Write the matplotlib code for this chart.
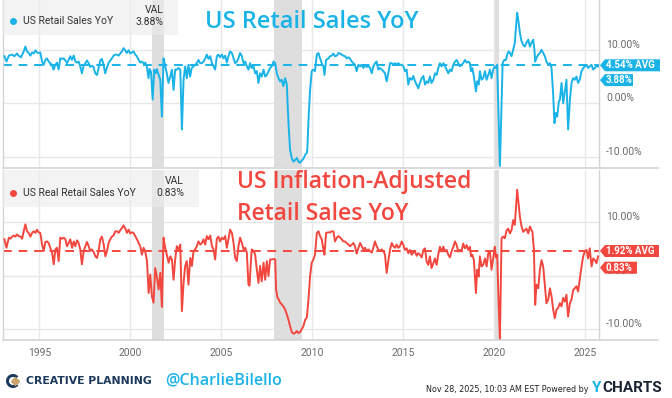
import matplotlib.pyplot as plt
import matplotlib.transforms as mtransforms
from matplotlib.lines import Line2D
from matplotlib.patches import Rectangle, Polygon, Wedge

plt.rcParams['font.family'] = ['Roboto', 'DejaVu Sans']

# ---------------- data (decimal years) ----------------
nominal_years = [
    1993.08, 1993.19, 1993.32, 1993.50, 1993.63, 1993.77, 1993.86, 1993.99, 1994.14, 1994.23,
    1994.32, 1994.41, 1994.51, 1994.60, 1994.69, 1994.78, 1994.87, 1994.96, 1995.05, 1995.15,
    1995.24, 1995.33, 1995.42, 1995.51, 1995.60, 1995.69, 1995.78, 1995.88, 1995.97, 1996.06,
    1996.15, 1996.24, 1996.34, 1996.43, 1996.52, 1996.61, 1996.70, 1996.79, 1996.89, 1996.98,
    1997.07, 1997.16, 1997.25, 1997.34, 1997.43, 1997.53, 1997.62, 1997.71, 1997.80, 1997.89,
    1997.98, 1998.07, 1998.17, 1998.26, 1998.35, 1998.44, 1998.53, 1998.62, 1998.71, 1998.80,
    1998.90, 1998.99, 1999.08, 1999.17, 1999.27, 1999.36, 1999.45, 1999.54, 1999.63, 1999.72,
    1999.81, 1999.91, 2000.00, 2000.09, 2000.18, 2000.27, 2000.36, 2000.46, 2000.55, 2000.64,
    2000.73, 2000.82, 2000.91, 2001.00, 2001.06, 2001.14, 2001.23, 2001.32, 2001.39, 2001.46,
    2001.56, 2001.65, 2001.74, 2001.83, 2001.92, 2002.01, 2002.10, 2002.20, 2002.29, 2002.38,
    2002.47, 2002.56, 2002.65, 2002.75, 2002.84, 2002.93, 2003.02, 2003.11, 2003.20, 2003.29,
    2003.38, 2003.48, 2003.57, 2003.66, 2003.75, 2003.84,
    2003.94, 2004.03, 2004.12, 2004.21, 2004.30, 2004.40, 2004.49, 2004.58, 2004.67, 2004.76,
    2004.85, 2004.94, 2005.04, 2005.13, 2005.22, 2005.31, 2005.40, 2005.49, 2005.59, 2005.68,
    2005.77, 2005.86, 2005.95, 2006.04, 2006.14, 2006.23, 2006.32, 2006.41, 2006.50, 2006.59,
    2006.68, 2006.78, 2006.87, 2006.96, 2007.05, 2007.14, 2007.23, 2007.33, 2007.42, 2007.51,
    2007.60, 2007.69, 2007.78, 2007.88, 2007.97, 2008.06, 2008.15, 2008.24, 2008.33, 2008.42,
    2008.52, 2008.61, 2008.66, 2008.72, 2008.79, 2008.88, 2008.97, 2009.07, 2009.16, 2009.25,
    2009.34, 2009.43, 2009.52, 2009.62, 2009.71, 2009.74, 2009.82, 2009.89, 2009.98, 2010.07,
    2010.16, 2010.26, 2010.35, 2010.44, 2010.53, 2010.62, 2010.68, 2010.77, 2010.90, 2010.99,
    2011.08, 2011.17, 2011.26, 2011.36, 2011.45, 2011.54, 2011.63, 2011.72, 2011.81, 2011.90,
    2012.00, 2012.09, 2012.18, 2012.27, 2012.36, 2012.45, 2012.55, 2012.64, 2012.73, 2012.82,
    2012.91, 2013.00, 2013.10, 2013.19, 2013.28, 2013.37, 2013.46, 2013.55, 2013.64, 2013.73,
    2013.83, 2013.92, 2014.01, 2014.10, 2014.19, 2014.29, 2014.38, 2014.47, 2014.56, 2014.65,
    2014.74, 2014.83,
    2014.93, 2015.02, 2015.11, 2015.20, 2015.29, 2015.38, 2015.48, 2015.57, 2015.66, 2015.75,
    2015.84, 2015.93, 2016.03, 2016.12, 2016.21, 2016.30, 2016.39, 2016.48, 2016.57, 2016.67,
    2016.76, 2016.85, 2016.94, 2017.03, 2017.12, 2017.22, 2017.31, 2017.40, 2017.49, 2017.58,
    2017.67, 2017.77, 2017.86, 2017.95, 2018.04, 2018.13, 2018.22, 2018.31, 2018.41, 2018.50,
    2018.59, 2018.68, 2018.74, 2018.81, 2018.90, 2019.01, 2019.08, 2019.16, 2019.23, 2019.32,
    2019.41, 2019.51, 2019.60, 2019.69, 2019.78, 2019.87, 2019.96, 2020.05, 2020.11, 2020.18,
    2020.26, 2020.33, 2020.42, 2020.48, 2020.57, 2020.66, 2020.73, 2020.81, 2020.88, 2020.97,
    2021.06, 2021.15, 2021.23, 2021.28, 2021.34, 2021.43, 2021.52, 2021.61, 2021.70, 2021.79,
    2021.89, 2021.98, 2022.07, 2022.16, 2022.23, 2022.27, 2022.34, 2022.44, 2022.53, 2022.62,
    2022.71, 2022.80, 2022.89, 2022.99, 2023.08, 2023.17, 2023.26, 2023.33, 2023.41, 2023.48,
    2023.57, 2023.63, 2023.72, 2023.81, 2023.90, 2023.99, 2024.08, 2024.18, 2024.27, 2024.36,
    2024.45, 2024.54, 2024.63, 2024.72, 2024.82, 2024.91, 2025.00, 2025.09, 2025.18, 2025.27,
    2025.37, 2025.46, 2025.55, 2025.64, 2025.73,
]
nominal_yoy = [
    8.8, 7.8, 8.9, 9.1, 8.8, 9.3, 8.9, 8.6, 9.7, 10.6,
    9.7, 9.4, 8.9, 9.5, 9.3, 9.9, 9.5, 9.4, 9.5, 7.8,
    7.2, 8.1, 8.4, 7.8, 7.5, 7.2, 6.3, 7.2, 7.6, 6.3,
    8.4, 8.3, 8.4, 8.0, 7.5, 8.1, 8.8, 8.1, 8.9, 7.8,
    7.6, 7.8, 6.9, 5.6, 7.0, 7.5, 8.0, 7.5, 6.8, 7.0,
    6.8, 5.6, 5.3, 6.6, 8.0, 8.3, 7.2, 5.6, 6.6, 7.5,
    8.0, 8.4, 8.9, 9.1, 9.1, 8.9, 9.3, 9.7, 10.3, 9.9,
    9.4, 9.9, 9.3, 9.5, 9.7, 9.1, 8.8, 8.1, 7.6, 7.8,
    7.5, 7.6, 7.0, 4.7, 6.4, 5.9, 0.7, 6.3, 5.6, 6.4,
    5.3, 4.4, -2.5, 8.4, 6.9, 5.6, 3.8, 5.0, 6.3, 2.5,
    6.3, 6.3, 6.6, 6.3, -4.9, 4.4, 6.9, 4.7, 7.2, 5.0,
    6.6, 6.9, 7.2, 7.5, 8.1, 7.5,
    7.5, 7.8, 8.4, 9.1, 8.3, 8.8, 7.5, 6.9, 6.3, 8.8,
    9.1, 8.6, 9.1, 8.4, 8.9, 7.6, 8.8, 9.7, 9.4, 8.4,
    7.5, 7.8, 8.4, 9.4, 8.8, 7.5, 7.8, 6.9, 6.3, 7.5,
    6.6, 6.9, 5.6, 6.0, 3.8, 5.6, 5.0, 6.3, 5.0, 5.3,
    6.0, 6.6, 6.9, 7.8, 7.5, 5.6, 4.7, 4.1, 4.4, 3.2,
    4.7, 3.5, -0.6, -4.9, -8.7, -10.2, -10.9, -10.6, -10.2, -10.9,
    -11.1, -10.7, -10.4, -9.6, -9.3, -8.4, -1.8, 2.5, 6.0, 6.3,
    6.0, 9.1, 9.4, 8.4, 7.5, 6.9, 5.3, 8.1, 8.4, 8.8,
    8.9, 9.3, 8.8, 8.9, 9.4, 9.3, 9.1, 8.9, 8.8, 8.4,
    8.6, 8.3, 7.8, 7.5, 7.2, 6.0, 7.2, 6.9, 7.2, 6.6,
    7.2, 6.8, 6.9, 6.6, 5.6, 6.9, 7.5, 7.8, 6.3, 6.6,
    6.3, 6.0, 5.6, 4.1, 5.6, 7.5, 7.5, 7.2, 7.5, 7.2,
    7.5, 7.2,
    7.2, 6.9, 6.0, 6.3, 3.5, 4.7, 4.4, 5.1, 4.1, 3.5,
    2.8, 3.8, 4.7, 5.1, 3.5, 4.1, 3.8, 5.0, 3.8, 4.4,
    5.6, 5.3, 6.6, 7.5, 6.9, 7.5, 6.9, 6.3, 5.6, 6.3,
    6.0, 7.2, 7.8, 8.1, 7.5, 6.9, 7.2, 7.5, 8.1, 7.6,
    7.8, 7.5, 6.0, 6.6, 5.0, 2.2, 4.1, 3.5, 6.0, 4.4,
    4.7, 6.0, 4.4, 5.3, 6.3, 4.7, 6.3, 6.9, 6.6, 7.2,
    -2.5, -11.7, 0.3, 7.5, 8.1, 8.1, 9.1, 9.7, 9.4, 8.8,
    10.0, 11.3, 15.0, 16.9, 15.6, 13.1, 11.6, 10.9, 10.6, 11.3,
    11.9, 10.6, 11.3, 11.9, 10.0, 7.8, 8.5, 9.1, 9.4, 10.0,
    9.4, 8.8, 7.8, 7.2, 7.5, 6.6, 1.6, -3.7, -1.8, -2.5,
    0.3, 0.7, 3.8, 0.0, 2.2, 4.4, -4.9, 0.7, 3.8, 4.7,
    4.4, 5.0, 3.8, 4.4, 6.0, 6.6, 6.9, 7.2, 6.6, 6.9,
    7.2, 6.3, 6.6, 6.9, 6.9,
]

real_years = [
    1993.08, 1993.19, 1993.32, 1993.41, 1993.50, 1993.59, 1993.68, 1993.77, 1993.86, 1993.96,
    1994.05, 1994.14, 1994.23, 1994.32, 1994.41, 1994.51, 1994.60, 1994.69, 1994.78, 1994.87,
    1994.96, 1995.05, 1995.15, 1995.24, 1995.33, 1995.42, 1995.51, 1995.60, 1995.70, 1995.79,
    1995.88, 1995.97, 1996.06, 1996.15, 1996.25, 1996.34, 1996.43, 1996.52, 1996.61, 1996.70,
    1996.80, 1996.89, 1996.98, 1997.07, 1997.16, 1997.25, 1997.34, 1997.44, 1997.53, 1997.62,
    1997.71, 1997.80, 1997.89, 1997.99, 1998.08, 1998.17, 1998.26, 1998.35, 1998.44, 1998.54,
    1998.63, 1998.72, 1998.81, 1998.90, 1998.99, 1999.08, 1999.18, 1999.27, 1999.36, 1999.45,
    1999.54, 1999.63, 1999.73, 1999.82, 1999.91, 2000.00, 2000.09, 2000.18, 2000.27, 2000.37,
    2000.46, 2000.55, 2000.64, 2000.73, 2000.82, 2000.92, 2001.01, 2001.10, 2001.19, 2001.28,
    2001.37, 2001.47, 2001.56, 2001.65, 2001.74, 2001.83, 2001.92, 2002.01, 2002.11, 2002.20,
    2002.29, 2002.38, 2002.47, 2002.56, 2002.66, 2002.75, 2002.84, 2002.93, 2003.02, 2003.11,
    2003.20, 2003.30, 2003.39, 2003.48, 2003.57, 2003.66, 2003.75, 2003.85,
    2003.94, 2004.03, 2004.12, 2004.21, 2004.30, 2004.40, 2004.49, 2004.58, 2004.67, 2004.76,
    2004.85, 2004.94, 2005.04, 2005.13, 2005.22, 2005.31, 2005.40, 2005.49, 2005.59, 2005.68,
    2005.77, 2005.86, 2005.95, 2006.04, 2006.14, 2006.23, 2006.32, 2006.41, 2006.50, 2006.56,
    2006.63, 2006.68, 2006.78, 2006.87, 2006.96, 2007.05, 2007.14, 2007.23, 2007.33, 2007.42,
    2007.51, 2007.60, 2007.69, 2007.78, 2007.88, 2007.97, 2008.02, 2008.10, 2008.17, 2008.24,
    2008.33, 2008.42, 2008.52, 2008.61, 2008.70, 2008.79, 2008.88, 2008.97, 2009.07, 2009.16,
    2009.25, 2009.34, 2009.43, 2009.52, 2009.62, 2009.71, 2009.80, 2009.89, 2009.98, 2010.07,
    2010.16, 2010.26, 2010.35, 2010.44, 2010.53, 2010.62, 2010.68, 2010.77, 2010.90, 2010.99,
    2011.08, 2011.17, 2011.26, 2011.36, 2011.45, 2011.54, 2011.63, 2011.72, 2011.81, 2011.90,
    2012.00, 2012.09, 2012.18, 2012.27, 2012.36, 2012.45, 2012.55, 2012.64, 2012.73, 2012.82,
    2012.91, 2013.00, 2013.10, 2013.19, 2013.28, 2013.37, 2013.46, 2013.55, 2013.64, 2013.73,
    2013.83, 2013.92, 2014.01, 2014.10, 2014.19, 2014.29, 2014.38, 2014.47, 2014.56, 2014.65,
    2014.74, 2014.83,
    2014.93, 2015.02, 2015.11, 2015.20, 2015.29, 2015.38, 2015.48, 2015.57, 2015.66, 2015.75,
    2015.84, 2015.93, 2016.03, 2016.12, 2016.21, 2016.30, 2016.39, 2016.48, 2016.57, 2016.67,
    2016.76, 2016.85, 2016.94, 2017.03, 2017.12, 2017.22, 2017.31, 2017.40, 2017.49, 2017.58,
    2017.67, 2017.77, 2017.86, 2017.95, 2018.04, 2018.13, 2018.22, 2018.31, 2018.41, 2018.50,
    2018.59, 2018.68, 2018.74, 2018.81, 2018.90, 2019.01, 2019.08, 2019.16, 2019.23, 2019.32,
    2019.41, 2019.51, 2019.60, 2019.69, 2019.78, 2019.87, 2019.96, 2020.05, 2020.11, 2020.18,
    2020.26, 2020.33, 2020.42, 2020.51, 2020.60, 2020.70, 2020.79, 2020.88, 2020.97, 2021.06,
    2021.15, 2021.23, 2021.28, 2021.34, 2021.43, 2021.52, 2021.61, 2021.70, 2021.79, 2021.89,
    2021.98, 2022.07, 2022.12, 2022.16, 2022.20, 2022.27, 2022.34, 2022.44, 2022.53, 2022.62,
    2022.71, 2022.80, 2022.89, 2022.99, 2023.08, 2023.17, 2023.26, 2023.35, 2023.44, 2023.53,
    2023.63, 2023.72, 2023.81, 2023.90, 2023.99, 2024.08, 2024.18, 2024.27, 2024.36, 2024.45,
    2024.54, 2024.63, 2024.72, 2024.82, 2024.91, 2025.00, 2025.09, 2025.18, 2025.27, 2025.37,
    2025.46, 2025.55, 2025.64, 2025.73,
]
real_yoy = [
    6.8, 5.2, 7.1, 6.9, 7.3, 7.5, 7.3, 7.7, 7.4, 7.3,
    6.9, 8.3, 9.6, 8.3, 8.0, 7.3, 8.0, 8.3, 8.0, 8.6,
    8.1, 8.0, 5.8, 4.6, 6.3, 6.4, 6.1, 5.2, 4.3, 2.1,
    4.9, 5.2, 2.7, 7.1, 6.9, 7.1, 6.8, 5.5, 6.1, 6.8,
    5.2, 6.4, 5.5, 6.6, 6.1, 4.9, 2.1, 4.6, 5.5, 6.3,
    5.5, 4.6, 4.9, 4.4, 3.6, 3.3, 4.6, 6.8, 7.3, 5.8,
    3.6, 4.6, 6.1, 6.8, 7.3, 7.5, 8.3, 8.3, 8.0, 8.5,
    8.9, 9.4, 8.8, 8.0, 8.6, 7.9, 8.1, 8.0, 7.4, 6.8,
    6.1, 5.5, 3.9, 5.2, 4.6, 2.7, -3.3, 0.2, -3.9, -5.1,
    1.4, -0.4, -2.6, 0.5, -5.9, 7.1, 5.2, 3.9, 2.4, 3.6,
    3.0, -0.8, 3.0, 5.5, 4.9, 5.8, -6.7, -1.4, 1.8, 2.7,
    -1.7, 3.3, 1.8, 4.6, 4.9, 5.5, 6.4, 5.8,
    6.1, 6.8, 5.8, 7.4, 6.8, 7.5, 5.5, 4.9, 3.0, 6.9,
    7.3, 6.4, 7.1, 6.8, 7.4, 5.2, 6.8, 8.6, 8.0, 6.1,
    3.3, 2.7, 5.5, 7.1, 6.1, 4.9, 5.2, 4.3, -1.7, -1.9,
    2.4, 4.9, 4.6, 3.9, 1.1, -1.4, 1.8, -1.1, 2.4, -0.8,
    2.7, -0.1, 3.0, 3.0, 3.1, 3.0, -2.6, -4.2, -4.5, -5.1,
    -5.4, -5.8, -6.4, -7.3, -8.3, -9.5, -10.6, -10.9, -10.8, -10.4,
    -10.8, -10.6, -10.1, -9.5, -8.3, -7.9, -4.5, -0.1, 2.4, 3.0,
    3.9, 8.0, 8.3, 7.4, 6.8, 4.9, 3.9, 8.0, 8.1, 8.1,
    8.3, 8.3, 6.4, 7.1, 7.4, 7.1, 6.8, 6.4, 6.4, 6.1,
    5.8, 5.5, 5.8, 6.1, 5.5, 4.1, 5.2, 6.1, 5.5, 4.9,
    5.2, 4.6, 4.9, 4.6, 4.3, 5.2, 6.4, 5.5, 4.9, 4.6,
    4.9, 4.6, 3.9, 0.5, 2.7, 4.9, 6.1, 5.5, 5.2, 5.8,
    5.2, 5.5,
    6.4, 5.7, 4.8, 5.1, 4.2, 4.8, 3.9, 4.3, 4.5, 3.7,
    4.2, 3.9, 3.4, 4.8, 5.1, 2.6, 2.0, 3.6, 1.4, 2.3,
    3.2, 2.0, 3.9, 5.4, 4.5, 5.4, 4.5, 4.8, 3.9, 3.4,
    4.5, 5.4, 6.4, 5.7, 4.5, 4.8, 4.5, 6.0, 5.1, 5.7,
    4.8, 5.4, 3.6, 3.9, 2.9, -3.3, 1.1, -0.2, 3.6, 1.7,
    2.0, 3.2, 1.7, 4.2, 4.5, 1.1, 3.2, 5.4, 3.4, 3.9,
    -5.2, -12.0, 7.0, 7.3, 7.0, 8.5, 8.8, 7.9, 8.5, 10.4,
    9.5, 13.5, 16.1, 14.1, 11.0, 9.2, 8.2, 8.5, 8.8, 7.9,
    9.2, 8.5, 8.2, 6.4, 4.8, -5.5, -1.7, -2.4, 1.1, 2.9,
    1.7, -1.7, -5.2, -4.5, -2.4, -3.9, -6.4, -8.0, -6.4, -6.1,
    -5.2, -5.8, -4.2, -4.9, -3.6, -7.7, -5.2, -4.5, -2.7, -2.4,
    -2.0, -3.0, -0.8, 1.7, 3.6, 4.5, 4.8, 3.2, 5.1, 1.7,
    3.2, 2.9, 2.3, 3.6,
]

# long-run average lines (as drawn) and labels
nominal_avg = 7.1
real_avg = 4.6
nominal_avg_label = "4.54% AVG"
real_avg_label = "1.92% AVG"
nominal_last_label = "3.88%"
real_last_label = "0.83%"

recessions = [(2001.17, 2001.83), (2007.92, 2009.42), (2020.05, 2020.28)]
year_ticks = [1995, 2000, 2005, 2010, 2015, 2020, 2025]
pct_ticks = [-10, 0, 10]
pct_labels = ["-10.00%", "0.00%", "10.00%"]

blue = "#1ab3e8"
red = "#f2473e"
W, H = 672, 398


def fx(px):
    return px / W


def fy(py):
    return 1 - py / H


fig = plt.figure(figsize=(6.72, 3.98), dpi=100)
fig.patch.set_facecolor("white")
ax1 = fig.add_axes([fx(3), fy(167), 596 / W, 167 / H])
ax2 = fig.add_axes([fx(3), fy(340), 596 / W, 170 / H])

panels = [
    (ax1, nominal_years, nominal_yoy, blue, nominal_avg, nominal_avg_label,
     nominal_last_label, (-11.9, 19.3), 14.8, 61, 34),
    (ax2, real_years, real_yoy, red, real_avg, real_avg_label,
     real_last_label, (-12.1, 19.8), 16.7, 60, 38),
]

for ax, xs, ys, col, avg, avg_lbl, last_lbl, ylim, gap, w_avg, w_last in panels:
    for a, b in recessions:
        ax.axvspan(a, b, color="#dedede", lw=0, zorder=0.6)
    ax.plot(xs, ys, color=col, lw=1.4, zorder=3, solid_joinstyle="round")
    ax.axhline(avg, color=col, lw=1.4, ls=(0, (4.5, 3.5)), zorder=2.5)
    ax.set_xlim(1993.0, 2025.78)
    ax.set_ylim(*ylim)
    ax.set_xticks(year_ticks)
    ax.set_yticks(pct_ticks, pct_labels)
    ax.grid(True, color="#e8e8e8", lw=1)
    ax.set_axisbelow(True)
    ax.yaxis.tick_right()
    ax.tick_params(axis="y", length=0, pad=5, labelsize=7.5, labelcolor="#6b6b6b")
    for lbl in ax.get_yticklabels():
        lbl.set_va("bottom")
    for s in ["top", "bottom"]:
        ax.spines[s].set_visible(False)
    for s in ["left", "right"]:
        ax.spines[s].set_color("#d4d4d4")
        ax.spines[s].set_linewidth(1)

    # value tags on the right edge
    bt = mtransforms.blended_transform_factory(ax.transAxes, ax.transData)
    tag_tr = mtransforms.Affine2D() + mtransforms.ScaledTranslation(1.0, avg, bt)
    for dy, text, w in [(0, avg_lbl, w_avg), (-gap, last_lbl, w_last)]:
        ax.add_patch(Polygon([(1, dy), (6, dy + 6), (w, dy + 6), (w, dy - 6), (6, dy - 6)],
                             closed=True, fc=col, ec="none", transform=tag_tr,
                             clip_on=False, zorder=6))
        ax.text(7, dy, text, transform=tag_tr, color="white", fontsize=7,
                fontweight="bold", ha="left", va="center", zorder=7)

ax1.tick_params(axis="x", length=0, labelbottom=False)
ax2.tick_params(axis="x", length=0, pad=6, labelsize=7.5, labelcolor="#6b6b6b")

# panel bottom rules extending under the axis labels
for py in [167.5, 340]:
    fig.add_artist(Line2D([fx(3), fx(658)], [fy(py), fy(py)], color="#d4d4d4", lw=1.2))

# legend boxes
for (x0, y0, x1, y1) in [(3, 0, 178, 35), (3, 170, 199, 207)]:
    fig.add_artist(Rectangle((fx(x0), fy(y1)), (x1 - x0) / W, (y1 - y0) / H,
                             fc="#ececec", ec="none", alpha=0.6, zorder=1.5))
fig.add_artist(Line2D([fx(13)], [fy(21)], marker="o", ms=4, color=blue, lw=0))
fig.text(fx(23), fy(21), "US Retail Sales YoY", fontsize=7.5, color="#333333", va="center")
fig.text(fx(164), fy(10), "VAL", fontsize=7.5, color="#333333", va="center", ha="right")
fig.text(fx(164), fy(22), nominal_last_label, fontsize=7.5, color="#333333", va="center", ha="right")
fig.add_artist(Line2D([fx(13)], [fy(193)], marker="o", ms=4, color=red, lw=0))
fig.text(fx(23), fy(193), "US Real Retail Sales YoY", fontsize=7.5, color="#333333", va="center")
fig.text(fx(184), fy(181), "VAL", fontsize=7.5, color="#333333", va="center", ha="right")
fig.text(fx(184), fy(193), real_last_label, fontsize=7.5, color="#333333", va="center", ha="right")

# annotations
title_font = ["Open Sans", "DejaVu Sans"]
fig.text(fx(205), fy(22), "US Retail Sales YoY", fontsize=17, color=blue,
         family=title_font, fontweight="semibold", va="center", ha="left")
fig.text(fx(237), fy(182), "US Inflation-Adjusted", fontsize=16.5, color=red,
         family=title_font, fontweight="semibold", va="center", ha="left")
fig.text(fx(237), fy(214), "Retail Sales YoY", fontsize=16.5, color=red,
         family=title_font, fontweight="semibold", va="center", ha="left")

# footer
logo_tr = mtransforms.Affine2D()
fig.add_artist(Wedge((13, H - 381), 7, 40, 320, width=3, fc="#1d3a5c", ec="none",
                     transform=logo_tr))
fig.add_artist(Line2D([15], [H - 381], marker="D", ms=4, color="#c9a46c", lw=0,
                      transform=logo_tr))
fig.text(fx(26), fy(381), "CREATIVE PLANNING", fontsize=7.8, fontweight="bold",
         color="#1d3a5c", va="center", ha="left", family=["DejaVu Sans"])
fig.text(fx(165), fy(380), "@CharlieBilello", fontsize=11.5, color=blue,
         fontweight="semibold", va="center", ha="left", family=title_font)
fig.text(fx(588), fy(389), "Nov 28, 2025, 10:03 AM EST Powered by", fontsize=5.8,
         color="#222222", va="center", ha="right",
         family=["Liberation Sans Narrow", "DejaVu Sans"])
fig.text(fx(592), fy(388), "Y", fontsize=11, fontweight="bold", color=blue,
         va="center", ha="left")
fig.text(fx(602), fy(388), "CHARTS", fontsize=11, fontweight="bold", color="#1c2333",
         va="center", ha="left")

fig.savefig("out.png", dpi=100)
